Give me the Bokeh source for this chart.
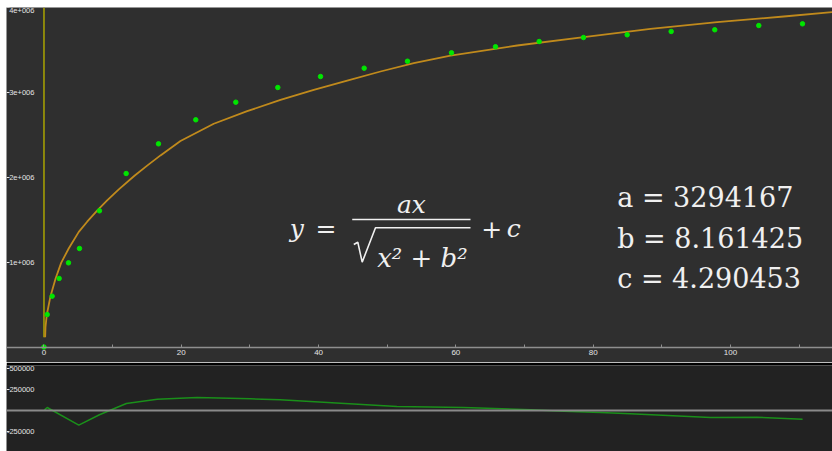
from bokeh.plotting import figure
from bokeh.models import Span, FixedTicker, CustomJSTickFormatter, Range1d, LinearAxis
from bokeh.layouts import column
from bokeh.embed import file_html
from bokeh.resources import INLINE
from bokeh.core.properties import value

# ---------------- data ----------------
pts_x = [0.0, 0.47, 1.19, 2.21, 3.57, 5.17, 8.08, 11.97, 16.68, 22.11, 27.94, 34.06,
         40.28, 46.64, 52.95, 59.36, 65.77, 72.13, 78.59, 84.95, 91.36, 97.71, 104.12, 110.49]
pts_y = [0.005e6, 0.388e6, 0.604e6, 0.812e6, 0.996e6, 1.165e6, 1.608e6, 2.047e6, 2.396e6,
         2.679e6, 2.886e6, 3.059e6, 3.188e6, 3.286e6, 3.368e6, 3.467e6, 3.538e6, 3.600e6,
         3.647e6, 3.679e6, 3.718e6, 3.738e6, 3.788e6, 3.808e6]

fit_x = [0.17, 0.22, 0.41, 0.95, 1.68, 2.50, 3.62, 5.07, 6.29, 7.74, 9.2, 10.9, 13.18,
         15.03, 16.97, 19.88, 24.73, 29.6, 34.45, 39.3, 44.17, 49.02, 53.87, 59.21, 68.93,
         78.63, 88.35, 98.06, 107.76, 114.85]
fit_y = [0.121e6, 0.239e6, 0.385e6, 0.604e6, 0.808e6, 0.996e6, 1.168e6, 1.360e6, 1.480e6,
         1.610e6, 1.730e6, 1.860e6, 2.020e6, 2.140e6, 2.260e6, 2.430e6, 2.632e6, 2.780e6,
         2.914e6, 3.032e6, 3.141e6, 3.247e6, 3.345e6, 3.435e6, 3.553e6, 3.651e6, 3.749e6,
         3.827e6, 3.894e6, 3.945e6]

marker_x = [0.0, 0.0]
marker_y = [0.121e6, 4.0e6]

res_x = [0.07, 0.47, 5.07, 8.08, 12.0, 16.5, 22.3, 30.1, 34.4, 51.4, 61.1, 70.9, 75.7,
         81.1, 85.4, 97.1, 103.9, 110.5]
res_y = [8300, 35700, -175000, -51000, 83000, 134500, 154800, 139000, 127000, 47600,
         35700, 8300, -8300, -23800, -39300, -83300, -79800, -103600]

x_ticks = [0, 20, 40, 60, 80, 100]
x_minor_ticks = [10, 30, 50, 70, 90, 110]
y_ticks = [1e6, 2e6, 3e6, 4e6]
res_ticks = [-500000, -250000, 250000, 500000]

param_labels = ["a = 3294167", "b = 8.161425", "c = 4.290453"]

# ---------------- styling / layout constants ----------------
TOP_BG = "#2f2f2f"
BOT_BG = "#222222"
LBL_COLOR = "#e4e4e4"
TXT_COLOR = "#f0f0f0"
TICK_FONT = "Liberation Sans"
X_TICK_SIZE = "8px"
Y_TICK_SIZE = "7.5px"
LABEL_AXIS_AT = -1.10     # data x where the y tick labels end
EDGE_AT = -5.46           # left edge of the panels (data x)

xr = Range1d(EDGE_AT, 114.86)


def style_label_axis(ax, ticks, code):
    ax.fixed_location = LABEL_AXIS_AT
    ax.ticker = FixedTicker(ticks=ticks)
    ax.formatter = CustomJSTickFormatter(code=code)
    ax.axis_line_color = None
    ax.major_tick_line_color = None
    ax.minor_tick_line_color = None
    ax.major_tick_out = 0
    ax.major_tick_in = 0
    ax.minor_tick_out = 0
    ax.minor_tick_in = 0
    ax.major_label_standoff = 2
    ax.major_label_text_color = LBL_COLOR
    ax.major_label_text_font = TICK_FONT
    ax.major_label_text_font_size = Y_TICK_SIZE


def add_edge_ticks(fig, ticks):
    edge = LinearAxis(fixed_location=EDGE_AT, ticker=FixedTicker(ticks=ticks),
                      formatter=CustomJSTickFormatter(code="return '';"),
                      axis_line_color=None, major_tick_in=3, major_tick_out=0,
                      minor_tick_in=0, minor_tick_out=0, minor_tick_line_color=None,
                      major_tick_line_color=LBL_COLOR, major_tick_line_width=1,
                      major_label_text_font_size="0px")
    fig.add_layout(edge, "left")


top = figure(width=826, height=355, x_range=xr,
             y_range=Range1d(-0.17647e6, 4.0e6),
             output_backend="svg", toolbar_location=None,
             min_border=0, background_fill_color=TOP_BG,
             border_fill_color=TOP_BG, outline_line_color=None)
top.grid.visible = False

xa = top.xaxis[0]
xa.fixed_location = 0
xa.ticker = FixedTicker(ticks=x_ticks, minor_ticks=x_minor_ticks)
xa.axis_line_color = "#8f8f8f"
xa.axis_line_width = 1.5
xa.major_tick_line_color = "#8f8f8f"
xa.minor_tick_line_color = "#8f8f8f"
xa.major_tick_in = 3
xa.major_tick_out = 0
xa.minor_tick_in = 3
xa.minor_tick_out = 0
xa.major_label_standoff = 2
xa.major_label_text_color = LBL_COLOR
xa.major_label_text_font = TICK_FONT
xa.major_label_text_font_size = X_TICK_SIZE

style_label_axis(top.yaxis[0], y_ticks, "return (tick/1e6).toFixed(0) + 'e+006';")
add_edge_ticks(top, y_ticks)

# marks
top.line(marker_x, marker_y, line_color="#aaa400", line_width=1.5)
top.line(fit_x, fit_y, line_color="#c08a1c", line_width=1.8, line_join="round")
top.scatter(pts_x, pts_y, size=4.5, fill_color="#00e600", line_color="#00e600")

# formula (built from text pieces)
f_font = value("DejaVu Serif")
top.text(x=[35.8], y=[1.400e6], text=["y"], text_font=f_font, text_font_style="italic",
         text_font_size="25px", text_color=TXT_COLOR, text_baseline="alphabetic")
top.text(x=[39.55], y=[1.400e6], text=["="], text_font=f_font,
         text_font_size="25px", text_color=TXT_COLOR, text_baseline="alphabetic")
top.text(x=[53.53], y=[1.679e6], text=["ax"], text_font=f_font, text_font_style="italic",
         text_font_size="25px", text_color=TXT_COLOR, text_baseline="alphabetic",
         text_align="center")
top.segment(x0=[44.9], y0=[1.506e6], x1=[62.13], y1=[1.506e6],
            line_color=TXT_COLOR, line_width=1.5)
# radical sign
top.line(x=[45.13, 45.71, 46.35, 48.29, 62.13],
         y=[1.212e6, 1.239e6, 1.004e6, 1.408e6, 1.408e6],
         line_color=TXT_COLOR, line_width=1.6)
top.text(x=[48.54], y=[1.055e6], text=["x² + b²"], text_font=f_font, text_font_style="italic",
         text_font_size="26px", text_color=TXT_COLOR, text_baseline="alphabetic")
top.text(x=[63.69], y=[1.400e6], text=["+"], text_font=f_font,
         text_font_size="25px", text_color=TXT_COLOR, text_baseline="alphabetic")
top.text(x=[67.4], y=[1.400e6], text=["c"], text_font=f_font, text_font_style="italic",
         text_font_size="25px", text_color=TXT_COLOR, text_baseline="alphabetic")

# parameter values
top.text(x=[83.5, 83.5, 83.5], y=[1.768e6, 1.286e6, 0.808e6], text=param_labels,
         text_font=f_font, text_font_size="27px", text_color=TXT_COLOR,
         text_baseline="alphabetic")

# ---------------- residual panel ----------------
bot = figure(width=826, height=89, x_range=xr,
             y_range=Range1d(-0.4881e6, 0.5357e6),
             output_backend="svg", toolbar_location=None,
             x_axis_location=None,
             min_border=0, min_border_top=3,
             background_fill_color=BOT_BG, border_fill_color="black",
             outline_line_color=None)
bot.grid.visible = False

style_label_axis(bot.yaxis[0], res_ticks, "return tick.toFixed(0);")
add_edge_ticks(bot, res_ticks)

bot.add_layout(Span(location=0, dimension="width", line_color="#8a8a8a", line_width=2))
bot.line(res_x, res_y, line_color="#1a8f1a", line_width=1.5)

layout = column(top, bot, spacing=0, margin=(7, 0, 0, 6))
open("out.html", "w").write(file_html(layout, INLINE))
